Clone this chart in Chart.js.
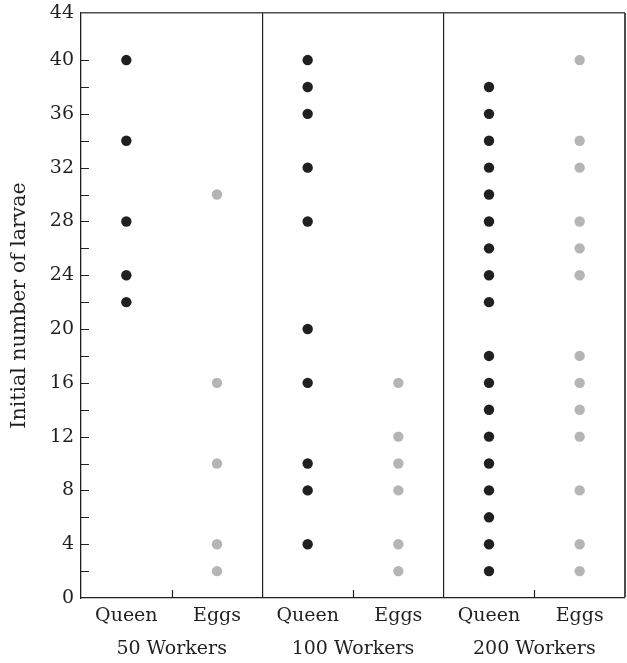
<!DOCTYPE html>
<html><head><meta charset="utf-8">
<script src="https://cdn.jsdelivr.net/npm/chart.js@4"></script>
<style>html,body{margin:0;padding:0;background:#fff}</style>
</head><body>
<canvas id="c" width="627" height="663"></canvas>
<script>
// ---- data ----
const categories = ['Queen', 'Eggs', 'Queen', 'Eggs', 'Queen', 'Eggs'];
const groups = ['50 Workers', '100 Workers', '200 Workers'];
const queen50 = [40, 34, 28, 24, 22];
const eggs50 = [30, 16, 10, 4, 2];
const queen100 = [40, 38, 36, 32, 28, 20, 16, 10, 8, 4];
const eggs100 = [16, 12, 10, 8, 4, 2];
const queen200 = [38, 36, 34, 32, 30, 28, 26, 24, 22, 18, 16, 14, 12, 10, 8, 6, 4, 2];
const eggs200 = [40, 34, 32, 28, 26, 24, 18, 16, 14, 12, 8, 4, 2];
const yTickValues = [0, 2, 4, 6, 8, 10, 12, 14, 16, 18, 20, 22, 24, 26, 28, 30, 32, 34, 36, 38, 40, 43.5];
const yTickLabels = ['0', '', '4', '', '8', '', '12', '', '16', '', '20', '', '24', '', '28', '', '32', '', '36', '', '40', '44'];
const yTitle = 'Initial number of larvae';

// ---- styles ----
const INK = '#231f20';
const GREY = '#b4b5b8';
const FRAME = '#4d4d4d';
const FONT = { family: "'DejaVu Serif', serif", size: 19 };
const TITLE_FONT = { family: "'DejaVu Serif', serif", size: 20.5 };
const TICK_LEN = 8;
const yTop = yTickValues[yTickValues.length - 1];
const nCat = categories.length;

const series = [queen50, eggs50, queen100, eggs100, queen200, eggs200];
const datasets = series.map((vals, ci) => ({
  label: categories[ci] + ' ' + groups[Math.floor(ci / 2)],
  data: vals.map(v => ({ x: ci + 0.5, y: v })),
  showLine: false,
  pointRadius: 5.2,
  pointHoverRadius: 5.2,
  pointBorderWidth: 0,
  pointBackgroundColor: categories[ci] === 'Queen' ? INK : GREY,
  pointBorderColor: categories[ci] === 'Queen' ? INK : GREY
}));

const xTickVals = [];
for (let i = 0; i <= nCat; i++) { xTickVals.push(i); if (i < nCat) xTickVals.push(i + 0.5); }

function noPad(s) { s.paddingLeft = 0; s.paddingRight = 0; s.paddingTop = 0; s.paddingBottom = 0; }

// inward tick marks, placed through the scales
const innerTicks = {
  id: 'innerTicks',
  afterDatasetsDraw(chart) {
    const { ctx, chartArea, scales } = chart;
    ctx.save();
    ctx.strokeStyle = INK;
    ctx.lineWidth = 1.2;
    ctx.beginPath();
    yTickValues.forEach(v => {
      if (v <= 0 || v >= yTop) return;
      const py = Math.round(scales.y.getPixelForValue(v)) + 0.5;
      ctx.moveTo(chartArea.left, py);
      ctx.lineTo(chartArea.left + TICK_LEN, py);
    });
    for (let i = 1; i < nCat; i += 2) {
      const px = Math.round(scales.x.getPixelForValue(i)) + 0.5;
      ctx.moveTo(px, chartArea.bottom);
      ctx.lineTo(px, chartArea.bottom - TICK_LEN);
    }
    ctx.stroke();
    ctx.restore();
  }
};

new Chart(document.getElementById('c'), {
  type: 'scatter',
  data: { datasets },
  plugins: [innerTicks],
  options: {
    responsive: false,
    animation: false,
    layout: { autoPadding: false, padding: { top: 13, right: 2, left: 0, bottom: 0 } },
    plugins: { legend: { display: false }, tooltip: { enabled: false } },
    scales: {
      x: {
        type: 'linear', min: 0, max: nCat, position: 'bottom',
        afterBuildTicks: s => { s.ticks = xTickVals.map(v => ({ value: v })); },
        afterFit: s => { s.height = 27; noPad(s); },
        ticks: {
          autoSkip: false, maxRotation: 0, minRotation: 0, padding: 7,
          font: FONT, color: INK,
          callback: v => (Number.isInteger(v) ? '' : categories[Math.floor(v)])
        },
        grid: {
          drawTicks: false,
          color: c => {
            const v = c.tick ? c.tick.value : -1;
            if (v === nCat) return FRAME;
            if (Number.isInteger(v) && v > 0 && v % 2 === 0) return INK;
            return 'rgba(0,0,0,0)';
          },
          lineWidth: c => (c.tick && c.tick.value === nCat ? 2 : 1.2)
        },
        border: { display: true, color: INK, width: 1.3 }
      },
      xg: {
        type: 'linear', min: 0, max: nCat, position: 'bottom',
        afterBuildTicks: s => { s.ticks = groups.map((g, i) => ({ value: 2 * i + 1 })); },
        afterFit: s => { s.height = 38; noPad(s); },
        ticks: {
          autoSkip: false, maxRotation: 0, minRotation: 0, padding: 5,
          font: FONT, color: INK,
          callback: v => groups[(v - 1) / 2]
        },
        grid: { display: false },
        border: { display: false }
      },
      y: {
        type: 'linear', min: 0, max: yTop, position: 'left',
        afterBuildTicks: s => { s.ticks = yTickValues.map(v => ({ value: v })); },
        afterFit: s => { s.width = 81; noPad(s); },
        ticks: {
          autoSkip: false, padding: 7, font: FONT, color: INK,
          callback: (v, i) => yTickLabels[i]
        },
        grid: {
          drawTicks: false,
          color: c => (c.tick && c.tick.value === yTop ? FRAME : 'rgba(0,0,0,0)'),
          lineWidth: c => (c.tick && c.tick.value === yTop ? 1.6 : 1)
        },
        border: { display: true, color: INK, width: 1.3 },
        title: {
          display: true, text: yTitle, font: TITLE_FONT, color: INK,
          padding: { top: 7, bottom: 0 }
        }
      }
    }
  }
});
</script>
</body></html>
